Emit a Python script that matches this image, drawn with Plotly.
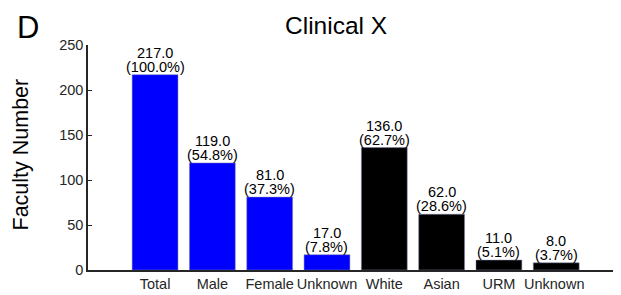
import plotly.graph_objects as go

categories = ["Total", "Male", "Female", "Unknown", "White", "Asian", "URM", "Unknown "]
values = [217.0, 119.0, 81.0, 17.0, 136.0, 62.0, 11.0, 8.0]
percents = [100.0, 54.8, 37.3, 7.8, 62.7, 28.6, 5.1, 3.7]
colors = ["#0000FF"] * 4 + ["#000000"] * 4
ytick_vals = [0, 50, 100, 150, 200, 250]

FONT = "Liberation Sans, Arial, Helvetica, sans-serif"
FS = 14.5

x_idx = list(range(len(categories)))
fig = go.Figure()
fig.add_trace(go.Bar(
    x=x_idx, y=values, width=0.8,
    marker=dict(color=colors, line=dict(color="#8080b0", width=0.5)),
    showlegend=False, hoverinfo="skip",
))

annotations = []
for i, (v, p) in enumerate(zip(values, percents)):
    annotations.append(dict(
        x=i, y=v, xref="x", yref="y", text=f"({p:.1f}%)",
        showarrow=False, yanchor="bottom", yshift=-2,
        font=dict(family=FONT, size=FS, color="#000000"),
    ))
    annotations.append(dict(
        x=i, y=v, xref="x", yref="y", text=f"{v:.1f}",
        showarrow=False, yanchor="bottom", yshift=12,
        font=dict(family=FONT, size=FS, color="#000000"),
    ))

annotations += [
    dict(x=0.465, y=1.0, xref="paper", yref="paper", xanchor="center", yanchor="bottom",
         text="Clinical X", showarrow=False, yshift=4,
         font=dict(family=FONT, size=24.5, color="#000000")),
    dict(x=-73/533, y=1 + 37/225, xref="paper", yref="paper", xanchor="left",
         yanchor="top", text="D", showarrow=False, yshift=0,
         font=dict(family=FONT, size=31, color="#000000")),
    dict(x=-68/533, y=0.5, xref="paper", yref="paper", xanchor="center",
         yanchor="middle", text="Faculty Number", textangle=-90, showarrow=False,
         yshift=3,
         font=dict(family=FONT, size=21.5, color="#000000")),
]

fig.update_layout(
    width=613, height=287,
    margin=dict(l=80, r=0, t=37, b=25),
    paper_bgcolor="white", plot_bgcolor="white",
    font=dict(family=FONT, size=FS, color="#262626"),
    annotations=annotations,
    xaxis=dict(
        range=[-1.17, 8.13], tickmode="array", tickvals=x_idx, ticktext=categories,
        showline=True, linecolor="#262626", linewidth=1.5, ticks="", showgrid=False,
        zeroline=False, tickfont=dict(family=FONT, size=FS, color="#262626"),
    ),
    yaxis=dict(
        range=[0, 250], tickvals=ytick_vals, showline=True, linecolor="#262626",
        linewidth=1.5, ticks="inside", ticklen=4, tickcolor="#262626", showgrid=False,
        zeroline=False, tickfont=dict(family=FONT, size=FS, color="#262626"),
    ),
)

fig.write_html("out.html")
